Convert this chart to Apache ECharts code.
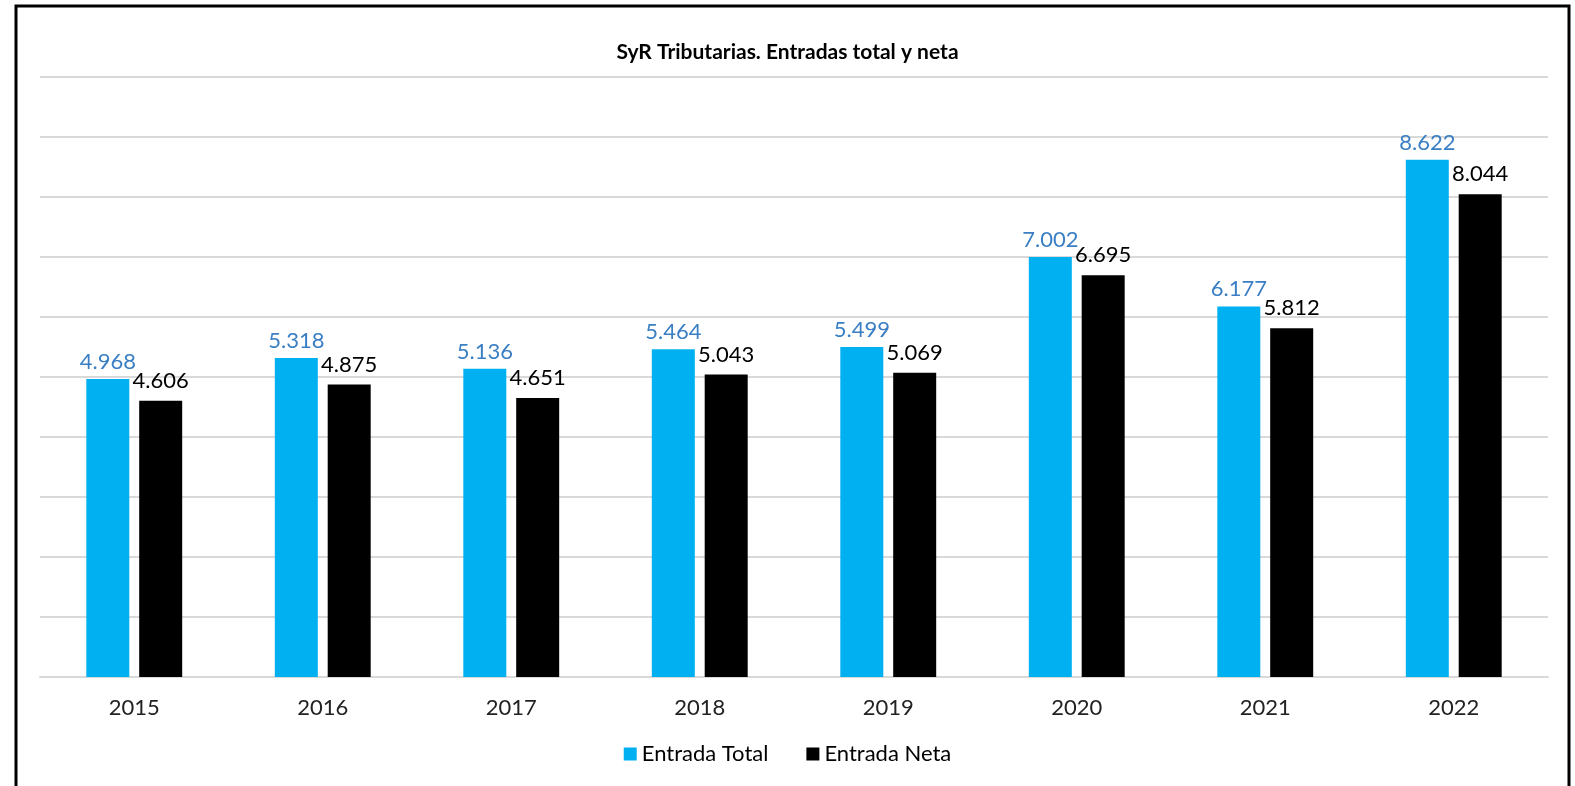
<!DOCTYPE html>
<html><head><meta charset="utf-8">
<script src="https://cdn.jsdelivr.net/npm/echarts@6/dist/echarts.min.js"></script>
<style>html,body{margin:0;padding:0;background:#fff}#c{width:1575px;height:786px}</style>
</head><body><div id="c"></div>
<script>
const categories = ['2015','2016','2017','2018','2019','2020','2021','2022'];
const entradaTotal = [4968, 5318, 5136, 5464, 5499, 7002, 6177, 8622];
const entradaNeta = [4606, 4875, 4651, 5043, 5069, 6695, 5812, 8044];
const fmt = v => { const s = String(Math.round(v)); return s.replace(/\B(?=(\d{3})+(?!\d))/g, '.'); };
const chart = echarts.init(document.getElementById('c'));
const FONT = 'Lato';
chart.setOption({
  animation: false,
  graphic: [{type:'rect', shape:{x:16, y:6, width:1553, height:800}, style:{fill:null, stroke:'#000', lineWidth:3}, silent:true, z:100}],
  title: {text:'SyR Tributarias. Entradas total y neta', left:'center', top:37, textStyle:{fontFamily:FONT, fontSize:21, fontWeight:'bold', color:'#000'}},
  legend: {bottom:16, left:'center', itemWidth:13, itemHeight:13, itemGap:38, icon:'rect', textStyle:{fontFamily:FONT, fontSize:22, color:'#000'}, data:['Entrada Total','Entrada Neta']},
  grid: {left:40, right:27, top:77, bottom:109},
  xAxis: {type:'category', data:categories, axisTick:{show:false}, axisLine:{lineStyle:{color:'#d9d9d9', width:2}}, axisLabel:{fontFamily:FONT, fontSize:22, color:'#222', margin:20}},
  yAxis: {type:'value', min:0, max:10000, interval:1000, axisLabel:{show:false}, axisLine:{show:false}, axisTick:{show:false}, splitLine:{lineStyle:{color:'#d9d9d9', width:2}}},
  series: [
    {name:'Entrada Total', type:'bar', data:entradaTotal, barWidth:43, barGap:'23%', itemStyle:{color:'#00b0f0'},
     label:{show:true, position:'top', distance:6, formatter:p=>fmt(p.value), fontFamily:FONT, fontSize:22, color:'#3a7fc4'}},
    {name:'Entrada Neta', type:'bar', data:entradaNeta, barWidth:43, barGap:'23%', itemStyle:{color:'#000'},
     label:{show:true, position:'top', distance:9, formatter:p=>fmt(p.value), fontFamily:FONT, fontSize:22, color:'#000'}}
  ]
});
</script></body></html>
